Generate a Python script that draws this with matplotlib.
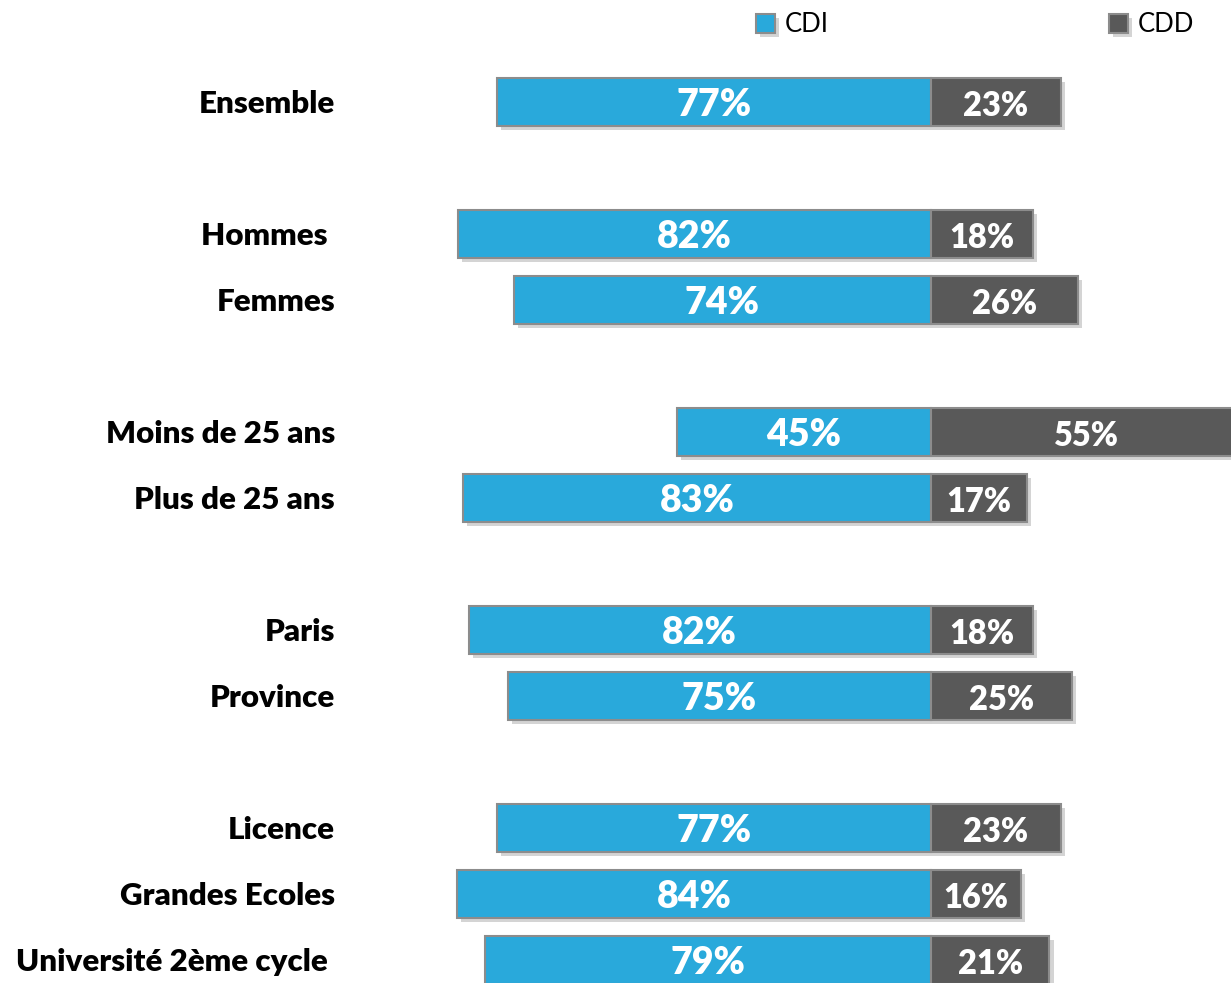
import numpy as np
import matplotlib
matplotlib.use('Agg')
import matplotlib.pyplot as plt
import matplotlib.patheffects as pe

categories = ['Ensemble', 'Hommes ', 'Femmes', 'Moins de 25 ans', 'Plus de 25 ans',
              'Paris', 'Province', 'Licence', 'Grandes Ecoles', 'Université 2ème cycle ']
slots = [0, 2, 3, 5, 6, 8, 9, 11, 12, 13]
# bar lengths as drawn in the source (Hommes bar is drawn longer than its 82% label)
cdi = [77, 83.9, 74, 45, 83, 82, 75, 77, 84, 79]
cdd = [23, 18, 26, 55, 17, 18, 25, 23, 16, 21]
cdi_labels = ['77%', '82%', '74%', '45%', '83%', '82%', '75%', '77%', '84%', '79%']
cdd_labels = ['23%', '18%', '26%', '55%', '17%', '18%', '25%', '23%', '16%', '21%']

C_CDI = '#29A9DB'
C_CDD = '#595959'
FONT = 'Lato'

fig = plt.figure(figsize=(12.31, 9.83), dpi=100)
ax = fig.add_axes([0, 0, 1, 1])
ax.set_xlim(-931 / 5.64, 300 / 5.64)
ax.set_ylim(983 / 66 - 102 / 66, -102 / 66)
ax.axis('off')

shadow = [pe.SimplePatchShadow(offset=(3, -3), shadow_rgbFace='#b8b8b8', alpha=0.6), pe.Normal()]
h = 0.73
b1 = ax.barh(slots, [-v for v in cdi], height=h, color=C_CDI, edgecolor='#8c8c8c', lw=1.5,
             label='CDI', path_effects=shadow)
b2 = ax.barh(slots, cdd, height=h, color=C_CDD, edgecolor='#8c8c8c', lw=1.5,
             label='CDD', path_effects=shadow)

for s, a, b, la, lb, name in zip(slots, cdi, cdd, cdi_labels, cdd_labels, categories):
    ax.text(-a / 2, s + 0.05, la, ha='center', va='center', color='white',
            fontsize=27, fontweight='heavy', family=FONT)
    ax.text(b / 2, s + 0.06, lb, ha='center', va='center', color='white',
            fontsize=23.5, fontweight='heavy', family=FONT)
    fig.text(335 / 1231, 1 - (104 + 66 * s) / 983, name, ha='right', va='center',
             fontsize=22.5, fontweight='heavy', family=FONT)

# legend entries placed separately
for bar, lab, x0 in [(b1, 'CDI', 756), (b2, 'CDD', 1109)]:
    fig.legend(handles=[bar], labels=[lab], loc='center left',
               bbox_to_anchor=(x0 / 1231, 1 - 25 / 983),
               frameon=False, prop={'family': FONT, 'size': 18.5}, handlelength=0.75,
               handleheight=0.75, handletextpad=0.35, borderaxespad=0, borderpad=0)

fig.savefig('out.png', dpi=100)
